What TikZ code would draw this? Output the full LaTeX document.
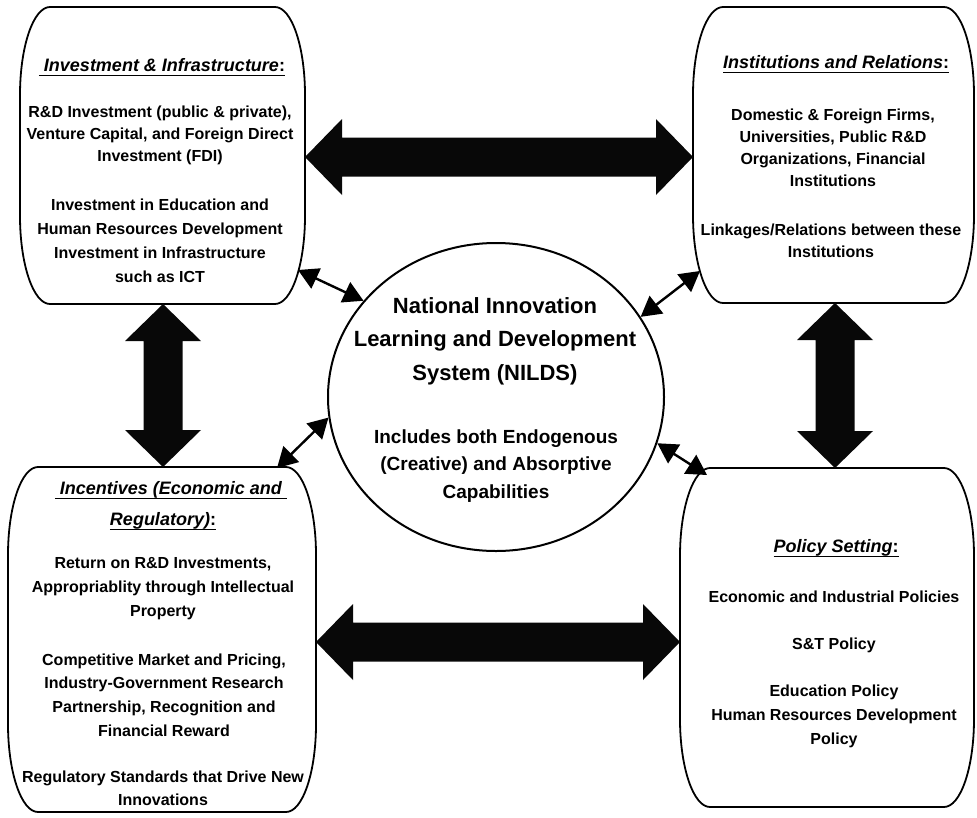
\documentclass[tikz,border=0pt]{standalone}
\usepackage{fontspec}
\setmainfont{Liberation Sans}
\usetikzlibrary{calc,arrows.meta,shapes.geometric}
\newcommand\myul[1]{\setbox0=\hbox{#1}\rlap{\rule[-4.6pt]{\wd0}{1.1pt}}\box0}
\def\rx{30pt}\def\ry{88pt}\def\kx{16.6pt}\def\ky{48.6pt}
\newcommand\softbox[1]{%
\draw[boxline] ([xshift=\rx]#1.north west) -- ([xshift=-\rx]#1.north east)
 .. controls ([xshift=-\rx+\kx]#1.north east) and ([yshift=-\ry+\ky]#1.north east) .. ([yshift=-\ry]#1.north east)
 -- ([yshift=\ry]#1.south east)
 .. controls ([yshift=\ry-\ky]#1.south east) and ([xshift=-\rx+\kx]#1.south east) .. ([xshift=-\rx]#1.south east)
 -- ([xshift=\rx]#1.south west)
 .. controls ([xshift=\rx-\kx]#1.south west) and ([yshift=\ry-\ky]#1.south west) .. ([yshift=\ry]#1.south west)
 -- ([yshift=-\ry]#1.north west)
 .. controls ([yshift=-\ry+\ky]#1.north west) and ([xshift=\rx-\kx]#1.north west) .. cycle;}
% horizontal block double arrow from left tip #1 to right tip #2
\newcommand\harrow[2]{%
\fill[blk] (#1) -- ++(37,-38) -- ++(0,18.5) -- ($(#2)+(-37,-19.5)$) -- ++(0,-18.5) -- (#2)
 -- ++(-37,38) -- ++(0,-18.5) -- ($(#1)+(37,19.5)$) -- ++(0,18.5) -- cycle;}
% vertical block double arrow from top tip #1 to bottom tip #2
\newcommand\varrow[2]{%
\fill[blk] (#1) -- ++(38,37) -- ++(-18.5,0) -- ($(#2)+(19.5,-37)$) -- ++(18.5,0) -- (#2)
 -- ++(-38,-37) -- ++(18.5,0) -- ($(#1)+(-19.5,37)$) -- ++(-18.5,0) -- cycle;}
\tikzset{
 boxline/.style={line width=1.8pt, line join=round},
 area/.style={inner sep=0pt, outer sep=0pt, draw=none},
 blk/.style={fill=black!97},
 link/.style={line width=2.4pt, {Triangle[length=20pt,width=22pt]}-{Triangle[length=20pt,width=22pt]}},
 txt/.style={align=center, anchor=base, inner sep=0pt},
 ttl/.style={txt, font=\fontsize{18}{30.7}\selectfont\bfseries},
 body/.style={txt, font=\fontsize{16}{#1}\selectfont\bfseries},
 body/.default=22.5
}
\begin{document}
\begin{tikzpicture}[x=1pt,y=-1pt]
\path[use as bounding box] (0,0) rectangle (977,817);
% box areas
\node[area, minimum width=285pt, minimum height=297pt] (inv) at (162.5,155.5) {};
\node[area, minimum width=281pt, minimum height=296pt] (fin) at (833.5,155) {};
\node[area, minimum width=308pt, minimum height=345pt] (inc) at (162,639.5) {};
\node[area, minimum width=294pt, minimum height=339pt] (pol) at (827,637.5) {};
\softbox{inv}
\softbox{fin}
\softbox{inc}
\softbox{pol}
% centre
\node[draw, ellipse, line width=2pt, minimum width=336pt, minimum height=308pt, inner sep=0pt] (nilds) at (496,397) {};
% block arrows
\coordinate (ta) at ([yshift=-1.5pt]inv.east);
\coordinate (tb) at ([yshift=-2pt]fin.west);
\coordinate (ba) at ([yshift=-2.5pt]inc.east);
\coordinate (bb) at ([yshift=-4.5pt]pol.west);
\coordinate (la) at ([xshift=0.5pt]inv.south);
\coordinate (lb) at ([xshift=1pt]inc.north);
\coordinate (ra) at ([xshift=1.5pt]fin.south);
\coordinate (rb) at ([xshift=8pt]pol.north);
\harrow{ta}{tb}
\harrow{ba}{bb}
\varrow{la}{lb}
\varrow{ra}{rb}
% thin links
\coordinate (c1) at (298,270);
\coordinate (c2) at (700,271);
\coordinate (c3) at (277,468);
\coordinate (c4) at (707,475);
\draw[link] (c1) -- (nilds.144);
\draw[link] (c2) -- (nilds.29);
\draw[link] (c3) -- (nilds.187);
\draw[link] (c4) -- (nilds.344.5);
% texts (multi-line nodes are placed by the baseline of their last line)
% investment
\node[ttl] (invT) at (162,71) {\myul{\textit{\ Investment \& Infrastructure}:}};
\node[body=22] (invA) at (160,161) {R\&D Investment (public \& private),\\Venture Capital, and Foreign Direct\\Investment (FDI)};
\node[body=23.8] (invB) at (160,282) {Investment in Education and\\Human Resources Development\\Investment in Infrastructure\\such as ICT};
% institutions
\node[ttl] (finT) at (836,68) {\myul{\textit{Institutions and Relations}:}};
\node[body=21.7] (finA) at (833,186) {Domestic \& Foreign Firms,\\Universities, Public R\&D\\Organizations, Financial\\Institutions};
\node[body=21.7] (finB) at (831,257) {Linkages/Relations between these\\Institutions};
% incentives
\node[ttl] (incT) at (171,494) {\myul{\textit{\ Incentives (Economic and\ }}};
\node[ttl] (incU) at (163,525) {\myul{\textit{Regulatory)}:}};
\node[body=23.8] (incA) at (163,616) {Return on R\&D Investments,\\Appropriablity through Intellectual\\Property};
\node[body=23.6] (incB) at (164,736) {Competitive Market and Pricing,\\Industry-Government Research\\Partnership, Recognition and\\Financial Reward};
\node[body=23.5] (incC) at (163,805.5) {Regulatory Standards that Drive New\\Innovations};
% policy
\node[ttl] (polT) at (836,552) {\myul{\textit{Policy Setting}:}};
\node[body=23.6] (polA) at (834,744) {Economic and Industrial Policies\\[23.6pt]S\&T Policy\\[23.6pt]Education Policy\\Human Resources Development\\Policy};
% centre text
\node[txt, font=\fontsize{22}{33.3}\selectfont\bfseries] (nildsA) at (495,380) {National Innovation\\Learning and Development\\System (NILDS)};
\node[txt, font=\fontsize{19}{27.5}\selectfont\bfseries] (nildsB) at (496,498) {Includes both Endogenous\\(Creative) and Absorptive\\Capabilities};
\end{tikzpicture}
\end{document}
